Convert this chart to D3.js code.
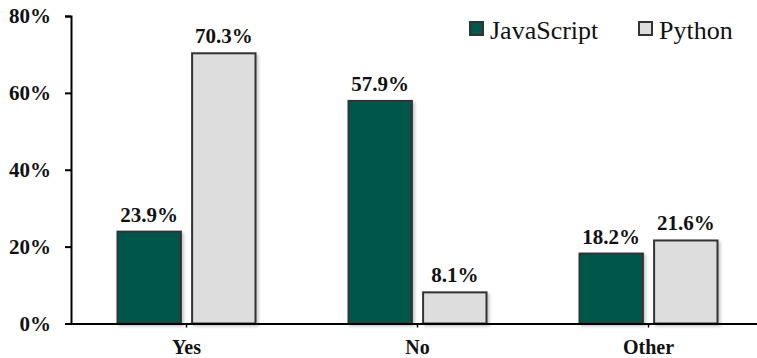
<!DOCTYPE html>
<html>
<head>
<meta charset="utf-8">
<script src="https://cdn.jsdelivr.net/npm/d3@7"></script>
<style>
  html, body { margin: 0; padding: 0; background: #fff; }
  svg { display: block; }
  svg text { font-family: "Liberation Serif", "Times New Roman", serif; }
</style>
</head>
<body>
<svg id="chart" width="757" height="358"></svg>
<script>
// Survey answers by language community
const categories = ["Yes", "No", "Other"];
const seriesNames = ["JavaScript", "Python"];
const javascriptValues = [23.9, 57.9, 18.2];
const pythonValues = [70.3, 8.1, 21.6];
const yTickValues = [0, 20, 40, 60, 80];
const seriesColors = ["#02574B", "#DDDDDD"];

const FONT = "Liberation Serif, Times New Roman, serif";

const svg = d3.select("#chart");
const W = 757, H = 358;
const margin = { left: 71, right: -7, top: 16, bottom: 34.5 };
const plotW = W - margin.left - margin.right;
const plotH = H - margin.top - margin.bottom;

const g = svg.append("g").attr("transform", `translate(${margin.left},${margin.top})`);

const defs = svg.append("defs");
const shadow = defs.append("filter").attr("id", "barShadow")
  .attr("x", "-10%").attr("y", "-10%").attr("width", "130%").attr("height", "130%");
shadow.append("feDropShadow").attr("dx", 2).attr("dy", 2).attr("stdDeviation", 1.5)
  .attr("flood-color", "#000").attr("flood-opacity", 0.22);

const x0 = d3.scaleBand().domain(categories).range([0, plotW]);
const x1 = d3.scaleBand().domain(seriesNames)
  .range([x0.bandwidth() / 2 - 69, x0.bandwidth() / 2 + 69]).paddingInner(0.15);
const y = d3.scaleLinear().domain([0, 80]).range([plotH, 0]);

const rows = categories.map((c, i) => ({
  cat: c,
  vals: [
    { s: seriesNames[0], v: javascriptValues[i], color: seriesColors[0] },
    { s: seriesNames[1], v: pythonValues[i], color: seriesColors[1] }
  ]
}));

const groups = g.selectAll("g.cat").data(rows).join("g")
  .attr("class", "cat")
  .attr("transform", d => `translate(${x0(d.cat)},0)`);

groups.selectAll("rect").data(d => d.vals).join("rect")
  .attr("x", d => x1(d.s))
  .attr("y", d => y(d.v))
  .attr("width", x1.bandwidth())
  .attr("height", d => y(0) - y(d.v))
  .attr("fill", d => d.color)
  .attr("stroke", "#333")
  .attr("stroke-width", 2)
  .attr("filter", "url(#barShadow)");

groups.selectAll("text.val").data(d => d.vals).join("text")
  .attr("class", "val")
  .attr("x", d => x1(d.s) + x1.bandwidth() / 2)
  .attr("y", d => y(d.v) - 10)
  .attr("text-anchor", "middle")
  .style("font-family", FONT)
  .attr("font-weight", "bold")
  .attr("font-size", 21)
  .attr("fill", "#111")
  .text(d => d.v.toFixed(1) + "%");

// Y axis
const yAxis = g.append("g")
  .call(d3.axisLeft(y).tickValues(yTickValues).tickFormat(d => d + "%").tickSize(6).tickPadding(14));
yAxis.select(".domain").attr("stroke", "#000").attr("stroke-width", 2);
yAxis.selectAll(".tick line").attr("stroke", "#000").attr("stroke-width", 2);
yAxis.selectAll(".tick text")
  .style("font-family", FONT)
  .attr("font-weight", "bold")
  .attr("font-size", 21)
  .attr("fill", "#111");

// X axis
const xAxis = g.append("g").attr("transform", `translate(0,${plotH})`)
  .call(d3.axisBottom(x0).tickSize(4).tickPadding(12).tickSizeOuter(0));
xAxis.select(".domain").attr("stroke", "#000").attr("stroke-width", 2);
xAxis.selectAll(".tick line").attr("stroke", "#000").attr("stroke-width", 1.5);
xAxis.selectAll(".tick text")
  .style("font-family", FONT)
  .attr("font-weight", "bold")
  .attr("font-size", 20)
  .attr("fill", "#111");

// Legend
const legend = svg.append("g").attr("class", "legend");
const legendX = [470, 639];
seriesNames.forEach((name, i) => {
  const lg = legend.append("g").attr("transform", `translate(${legendX[i]},22)`);
  lg.append("rect").attr("width", 13).attr("height", 13)
    .attr("fill", seriesColors[i]).attr("stroke", "#333").attr("stroke-width", 2);
  lg.append("text").attr("x", 20).attr("y", 17)
    .style("font-family", FONT)
    .attr("font-size", 26)
    .attr("fill", "#111")
    .text(name);
});
</script>
</body>
</html>
